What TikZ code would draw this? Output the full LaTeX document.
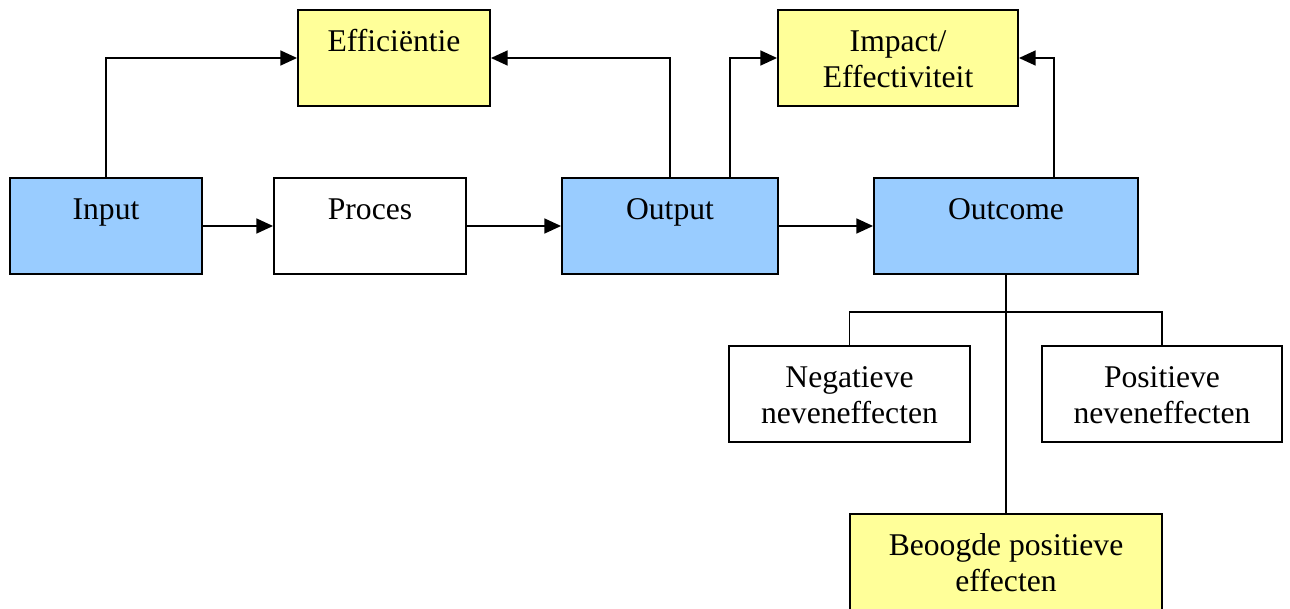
\documentclass[tikz,border=0pt]{standalone}
\usepackage{fontspec}
\setmainfont{Liberation Serif}
\usepackage{tikz}
\usetikzlibrary{positioning, arrows.meta, calc}

\definecolor{boxblue}{HTML}{99CCFF}
\definecolor{boxyellow}{HTML}{FFFF99}

\begin{document}
\begin{tikzpicture}[x=0.02cm, y=-0.02cm, >={Triangle[length=9.5pt, width=8.5pt]},
    box/.style={draw, line width=1.1pt, inner sep=0pt, align=center,
        font=\fontsize{18}{20.5}\selectfont, minimum height=1.92cm,
        text height=23.8pt, text depth=30.8pt},
    twoline/.style={text height=44.3pt, text depth=10.3pt},
    bluebox/.style={box, fill=boxblue},
    yellowbox/.style={box, fill=boxyellow},
    link/.style={line width=1pt}]
    \useasboundingbox (0,0) rectangle (1290,608);
    % Main chain
    \node[bluebox, minimum width=3.84cm] (input) at (106,226) {Input};
    \node[box, minimum width=3.84cm] (proces) at (370,226) {Proces};
    \node[bluebox, minimum width=4.32cm] (output) at (670,226) {Output};
    \node[bluebox, minimum width=5.28cm] (outcome) at (1006,226) {Outcome};
    % Results on top
    \node[yellowbox, minimum width=3.84cm] (eff) at (394,58) {Efficiëntie};
    \node[yellowbox, twoline, minimum width=4.8cm] (impact) at (898,58) {Impact/\\Effectiviteit};
    % Effects below the outcome
    \node[box, twoline, minimum width=4.82cm] (neg) at (849.5,394) {Negatieve\\neveneffecten};
    \node[box, twoline, minimum width=4.8cm] (pos) at (1162,394) {Positieve\\neveneffecten};
    \node[yellowbox, twoline, minimum width=6.24cm] (beoogd) at (1006,562) {Beoogde positieve\\effecten};
    % Arrows
    \draw[link, ->] (input) -- (proces);
    \draw[link, ->] (proces) -- (output);
    \draw[link, ->] (output) -- (outcome);
    \draw[link, ->] (input.north) |- (eff.west);
    \draw[link, ->] (output.north) |- (eff.east);
    \draw[link, ->] ([xshift=1.2cm]output.north) |- (impact.west);
    \draw[link, ->] ([xshift=0.96cm]outcome.north) |- (impact.east);
    % Tree under the outcome
    \coordinate (split) at (1006,312);
    \draw[link] (outcome.south) -- (beoogd.north);
    \draw[link] (neg.north) |- (split) -| (pos.north);
\end{tikzpicture}
\end{document}
